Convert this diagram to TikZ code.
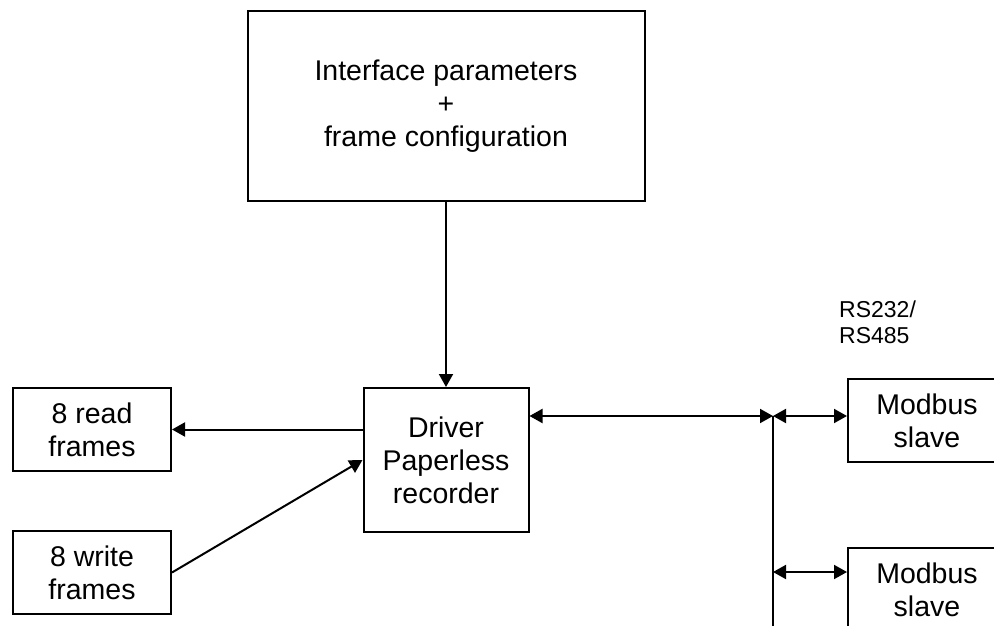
\documentclass[tikz,border=0pt]{standalone}
\usepackage{fontspec}
\setmainfont{Liberation Sans}
\usetikzlibrary{arrows.meta}
\tikzset{
  box/.style={draw, line width=2pt, inner sep=0pt, align=center, font=\fontsize{28.5}{33}\selectfont},
  conn/.style={line width=2pt, -{Triangle[length=13pt,width=14pt]}},
  dconn/.style={line width=2pt, {Triangle[length=13pt,width=14pt]}-{Triangle[length=13pt,width=14pt]}},
  lbl/.style={inner sep=0pt, align=left, font=\fontsize{23}{26}\selectfont}
}
\begin{document}
\begin{tikzpicture}[x=1pt,y=-1pt]
\useasboundingbox (0,0) rectangle (994,626);
\clip (0,0) rectangle (994,626);
\node[box, minimum width=397pt, minimum height=190pt] (top) at (446,106) {Interface parameters\\+\\frame configuration};
\node[box, minimum width=165pt, minimum height=144pt] (drv) at (446,460) {Driver\\Paperless\\recorder};
\node[box, minimum width=158pt, minimum height=83pt] (read) at (92,429.5) {8 read\\frames};
\node[box, minimum width=158pt, minimum height=83pt] (write) at (92,572.5) {8 write\\frames};
\node[box, minimum width=158pt, minimum height=83pt] (mod1) at (927,420.5) {Modbus\\slave};
\node[box, minimum width=158pt, minimum height=83pt] (mod2) at (927,589.5) {Modbus\\slave};
\node[lbl, anchor=north west] (rs) at (839,301) {RS232/\\RS485};
\coordinate (j1) at (773,416);
\coordinate (j2) at (773,572);
\coordinate (busend) at (773,640);
\draw[conn] (top.south) -- (drv.north);
\draw[conn] (drv.west |- read.east) -- (read.east);
\draw[conn] (write.east) -- (drv.west);
\draw[dconn] (drv.east |- j1) -- (j1);
\draw[line width=2pt] (j1) -- (busend);
\draw[dconn] (j1) -- (mod1.west |- j1);
\draw[dconn] (j2) -- (mod2.west |- j2);
\end{tikzpicture}
\end{document}
